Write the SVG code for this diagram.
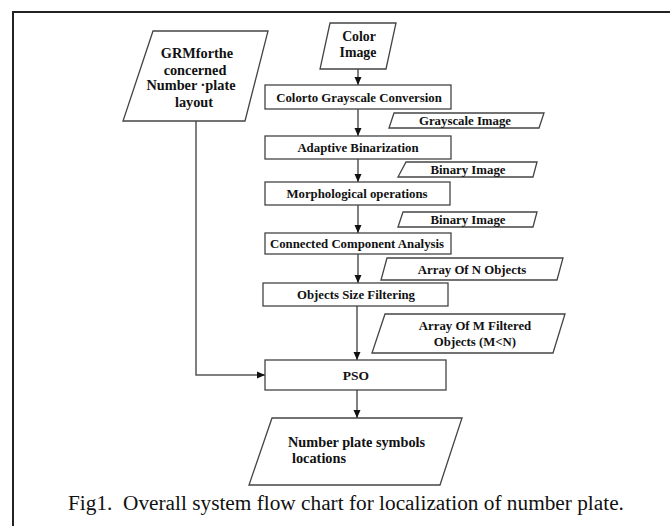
<svg xmlns="http://www.w3.org/2000/svg" width="670" height="526" viewBox="0 0 670 526">
<style>
.sh{fill:#fff;stroke:#444;stroke-width:1.3}
.t{font-family:"Liberation Serif","Times New Roman",serif;font-weight:bold;font-size:12.8px;fill:#111;text-anchor:middle}
.big{font-size:14.3px}
.c{fill:none;stroke:#555;stroke-width:1.5}
.cap{font-family:"Liberation Serif","Times New Roman",serif;font-size:21.3px;fill:#111;white-space:pre}
</style>
<defs>
<marker id="ah" markerWidth="8" markerHeight="8" viewBox="0 0 8 8" refX="8" refY="4" orient="auto" markerUnits="userSpaceOnUse">
<path d="M0,0.5 L8,4 L0,7.5 Z" fill="#111"/>
</marker>
</defs>
<rect width="670" height="526" fill="#fff"/>
<g id="frame">
<path d="M13,526 V12 H670" fill="none" stroke="#222" stroke-width="2"/>
</g>
<g id="connectors">
<path class="c" d="M196,121 V375 H265" marker-end="url(#ah)"/>
<path class="c" d="M358,69 V85" marker-end="url(#ah)"/>
<path class="c" d="M358,109 V136" marker-end="url(#ah)"/>
<path class="c" d="M358,159 V182" marker-end="url(#ah)"/>
<path class="c" d="M358,205 V233" marker-end="url(#ah)"/>
<path class="c" d="M358,254 V283" marker-end="url(#ah)"/>
<path class="c" d="M357,306 V360" marker-end="url(#ah)"/>
<path class="c" d="M357,390 V418" marker-end="url(#ah)"/>
</g>
<g id="grm">
<polygon class="sh" points="153,31 268,31 245,121 123,121"/>
<text class="t big" x="197" y="58">GRMforthe</text>
<text class="t big" x="195" y="75">concerned</text>
<text class="t big" x="191" y="90">Number ·plate</text>
<text class="t big" x="194" y="107">layout</text>
</g>
<g id="color-image">
<polygon class="sh" points="330,23 396,23 386,69 320,69"/>
<text class="t" x="359" y="41" style="font-size:13.8px">Color</text>
<text class="t" x="358" y="57" style="font-size:13.8px">Image</text>
</g>
<g id="gray-conv">
<rect class="sh" x="265" y="85" width="186" height="24"/>
<text class="t" x="359" y="102">Colorto Grayscale Conversion</text>
</g>
<g id="gray-image">
<polygon class="sh" points="394,113 544,113 539,128 389,128"/>
<text class="t" x="465" y="125">Grayscale Image</text>
</g>
<g id="binarization">
<rect class="sh" x="265" y="136" width="186" height="23"/>
<text class="t" x="358" y="152">Adaptive Binarization</text>
</g>
<g id="binary1">
<polygon class="sh" points="406,162 537,162 533,177 398,177"/>
<text class="t" x="468" y="174">Binary Image</text>
</g>
<g id="morph">
<rect class="sh" x="265" y="182" width="185" height="23"/>
<text class="t" x="357" y="198">Morphological operations</text>
</g>
<g id="binary2">
<polygon class="sh" points="403,212 537,212 533,227 398,227"/>
<text class="t" x="468" y="224">Binary Image</text>
</g>
<g id="cca">
<rect class="sh" x="265" y="233" width="186" height="21"/>
<text class="t" x="357" y="248">Connected Component Analysis</text>
</g>
<g id="n-objects">
<polygon class="sh" points="387,258 563,258 557,280 381,280"/>
<text class="t" x="472" y="274">Array Of N Objects</text>
</g>
<g id="size-filter">
<rect class="sh" x="263" y="283" width="185" height="23"/>
<text class="t" x="356" y="299">Objects Size Filtering</text>
</g>
<g id="m-objects">
<polygon class="sh" points="385,314 565,314 553,353 372,353"/>
<text class="t" x="475" y="330">Array Of M Filtered</text>
<text class="t" x="475" y="346">Objects (M&lt;N)</text>
</g>
<g id="pso">
<rect class="sh" x="265" y="360" width="181" height="30"/>
<text class="t" x="356" y="380" style="font-size:13.5px">PSO</text>
</g>
<g id="output">
<polygon class="sh" points="272,418 462,418 440,485 249,485"/>
<text class="t big" x="288" y="447" style="text-anchor:start">Number plate symbols</text>
<text class="t big" x="292" y="463" style="text-anchor:start">locations</text>
</g>
<text class="cap" x="68" y="510">Fig1.  Overall system flow chart for localization of number plate.</text>
</svg>
